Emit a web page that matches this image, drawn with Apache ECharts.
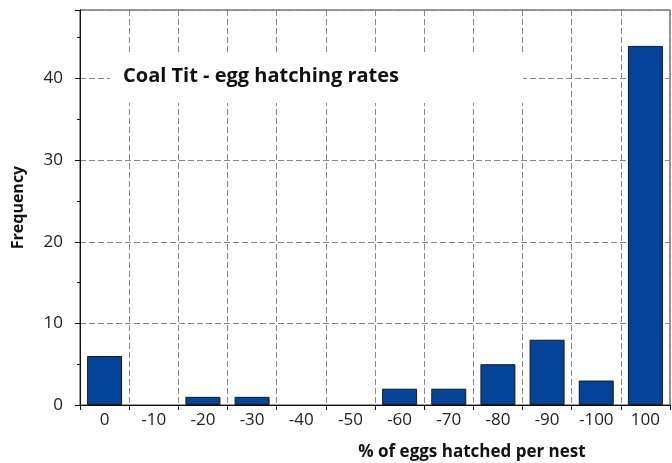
<!DOCTYPE html>
<html>
<head>
<meta charset="utf-8">
<script src="https://cdn.jsdelivr.net/npm/echarts@6/dist/echarts.min.js"></script>
<style>
    html, body { margin: 0; padding: 0; background: #fff; }
    #chart { width: 672px; height: 463px; }
</style>
</head>
<body>
<div id="chart"></div>
<script>
    // categories as printed under the bars
    var categories = ['0', '-10', '-20', '-30', '-40', '-50', '-60', '-70', '-80', '-90', '-100', '100'];
    var frequency = [6, 0, 1, 1, 0, 0, 2, 2, 5, 8, 3, 44];
    var yTicks = [0, 10, 20, 30, 40];

    var font = '"Open Sans", Lato, sans-serif';
    var chart = echarts.init(document.getElementById('chart'));

    // empty classes get no outline, so nothing shows on the axis
    var barData = frequency.map(function (v) {
        return v === 0 ? { value: v, itemStyle: { borderWidth: 0 } } : v;
    });

    var option = {
        animation: false,
        textStyle: { fontFamily: font },
        grid: {
            left: 80, right: 2, top: 10, bottom: 58,
            outerBoundsMode: 'none',
            show: true,
            borderColor: '#333',
            borderWidth: 1
        },
        graphic: [
            {
                type: 'rect',
                z: 100,
                shape: { x: 110, y: 53, width: 413, height: 50 },
                style: { fill: '#fff' }
            },
            {
                type: 'text',
                z: 101,
                x: 123,
                y: 76,
                style: {
                    text: 'Coal Tit - egg hatching rates',
                    fontFamily: font,
                    fontWeight: 'bold',
                    fontSize: 20,
                    fill: '#111',
                    verticalAlign: 'middle'
                }
            }
        ],
        xAxis: {
            type: 'category',
            data: categories,
            name: '% of eggs hatched per nest',
            nameLocation: 'middle',
            nameGap: 39,
            nameTextStyle: {
                fontFamily: font,
                fontWeight: 'bold',
                fontSize: 17,
                color: '#111',
                padding: [0, 0, 0, 194]
            },
            axisLine: { lineStyle: { color: '#111', width: 1 } },
            axisTick: { show: true, length: 5, lineStyle: { color: '#111' } },
            axisLabel: { fontSize: 17, color: '#222', margin: 7, fontFamily: font },
            splitLine: {
                show: true,
                lineStyle: { color: '#888', type: [6, 3], width: 1 }
            }
        },
        yAxis: {
            type: 'value',
            min: 0,
            max: 48.4,
            interval: 10,
            name: 'Frequency',
            nameLocation: 'middle',
            nameGap: 54,
            nameTextStyle: {
                fontFamily: font,
                fontWeight: 'bold',
                fontSize: 16,
                color: '#111'
            },
            axisLine: { show: true, lineStyle: { color: '#111', width: 1 } },
            axisTick: { show: true, length: 5, lineStyle: { color: '#111' } },
            minorTick: { show: true, splitNumber: 2, length: 3, lineStyle: { color: '#111' } },
            axisLabel: {
                fontSize: 17, color: '#222', margin: 17, fontFamily: font,
                formatter: function (v) { return yTicks.indexOf(v) >= 0 ? String(v) : ''; }
            },
            splitLine: {
                show: true,
                lineStyle: { color: '#888', type: [6, 3], width: 1 }
            }
        },
        series: [{
            type: 'bar',
            data: barData,
            barWidth: 35,
            itemStyle: {
                color: '#03449a',
                borderColor: '#1a1a1a',
                borderWidth: 1
            }
        }]
    };

    chart.setOption(option);
</script>
</body>
</html>
